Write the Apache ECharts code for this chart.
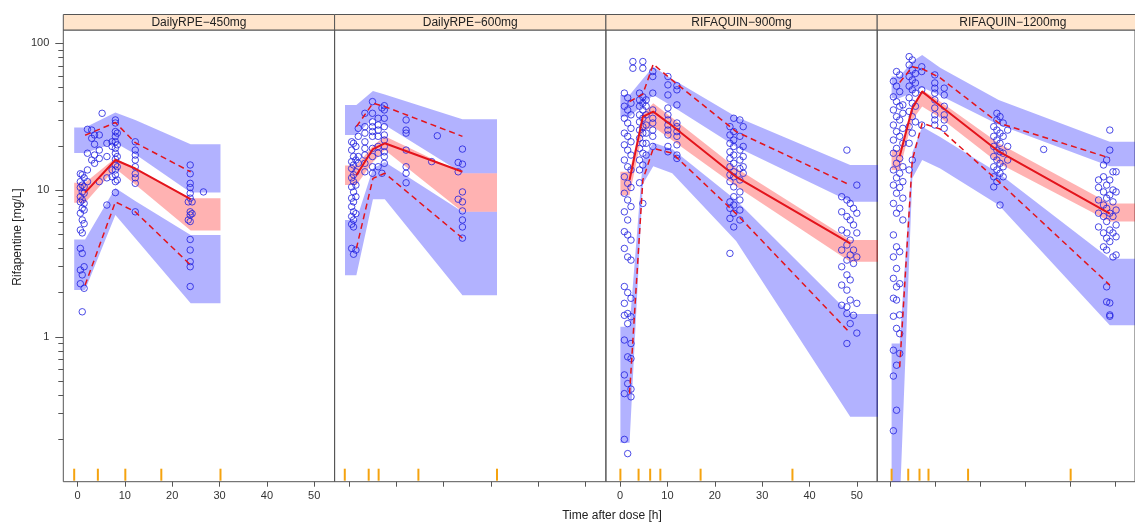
<!DOCTYPE html>
<html>
<head>
<meta charset="utf-8">
<title>Rifapentine VPC</title>
<script src="https://cdn.jsdelivr.net/npm/echarts@6/dist/echarts.min.js"></script>
<style>
  html, body { margin: 0; padding: 0; background: #fff; }
  #vpc { width: 1135px; height: 525px; }
</style>
</head>
<body>
<div id="vpc"></div>
<script>
// panels and ticks
const panels = ['DailyRPE−450mg', 'DailyRPE−600mg', 'RIFAQUIN−900mg', 'RIFAQUIN−1200mg'];
const xTicks = [0, 10, 20, 30, 40, 50];
const yMajor = [1, 10, 100];
const yMinor = [0.2, 0.3, 0.4, 0.5, 0.6, 0.7, 0.8, 0.9, 2, 3, 4, 5, 6, 7, 8, 9, 20, 30, 40, 50, 60, 70, 80, 90];

// bin edges (orange rug)
const binEdges = [
  [-0.7, 4.3, 10.1, 17.7, 30.2],
  [-0.85, 4.2, 6.3, 14.7, 31.3],
  [0.06, 3.9, 6.35, 8.5, 17.0, 36.4],
  [0.2, 3.9, 6.4, 8.4, 17.2, 40.0]
];

// simulated confidence bands: x positions, then lo/hi for 5th, 50th, 95th percentile
const bandX = [
  [-0.7, 1.6, 8.0, 12.2, 23.9, 30.2],
  [-0.8, 1.6, 5.1, 7.6, 24.0, 31.3],
  [0.06, 2.0, 4.8, 7.0, 11.0, 24.5, 48.6, 56],
  [0.2, 2.0, 4.8, 7.0, 11.0, 24.0, 48.7, 56]
];
const p5Lo = [
  [2.08, 2.08, 6.76, 4.7, 1.69, 1.69],
  [2.63, 2.63, 8.65, 8.65, 1.92, 1.92],
  [0.19, 0.19, 11, 14.5, 13, 4.5, 0.285, 0.285],
  [0.07, 0.07, 12, 16, 14, 7.9, 1.2, 1.2]
];
const p5Hi = [
  [4.6, 4.6, 10.3, 8.4, 4.94, 4.94],
  [6.25, 6.25, 14.0, 15.5, 7.1, 7.1],
  [1.17, 1.17, 16, 21, 19, 8.5, 1.43, 1.43],
  [0.9, 0.9, 18, 27, 23, 13, 3.4, 3.4]
];
const p50Lo = [
  [8.2, 8.2, 14.0, 10.9, 5.3, 5.3],
  [10.8, 10.8, 15.5, 18.7, 7.1, 7.1],
  [9.2, 9.2, 25, 27, 21.8, 10.6, 3.25, 3.25],
  [13.7, 13.7, 30, 37, 31, 15.2, 6.1, 6.1]
];
const p50Hi = [
  [11.2, 11.2, 16.5, 13.9, 8.8, 8.8],
  [14.7, 14.7, 20.0, 23.2, 13.0, 13.0],
  [13.3, 13.3, 33, 39, 31, 14.1, 4.56, 4.56],
  [18.7, 18.7, 38, 48, 40, 20.8, 8.1, 8.1]
];
const p95Lo = [
  [17.9, 17.9, 21.0, 17.5, 9.6, 9.6],
  [23.7, 23.7, 30.8, 27.7, 13.0, 13.0],
  [31.6, 31.6, 38, 44.4, 37.2, 19.7, 8.3, 8.3],
  [42.3, 42.3, 46, 50, 44, 27.8, 14.5, 14.5]
];
const p95Hi = [
  [26.6, 26.6, 33.7, 30.0, 20.5, 20.5],
  [38, 38, 47.3, 44.8, 30.3, 30.3],
  [44.4, 44.4, 57, 69, 57, 31.6, 14.8, 14.8],
  [59.2, 59.2, 75, 83, 68, 41, 21.3, 21.3]
];

// observed percentiles
const obsX = [
  [1.6, 8.0, 12.2, 23.9],
  [1.6, 5.1, 7.6, 24.0],
  [2.0, 4.8, 7.0, 11.0, 24.5, 48.6],
  [2.0, 4.8, 7.0, 11.0, 24.0, 48.7]
];
const obs5 = [
  [2.25, 8.3, 7.1, 3.08],
  [4.0, 12.0, 13.0, 4.7],
  [0.41, 11.7, 19.2, 17.8, 6.9, 1.06],
  [0.62, 16, 28.5, 26, 11.4, 2.25]
];
const obs50 = [
  [9.6, 16.0, 14.0, 8.65],
  [12.6, 19.0, 20.8, 13.3],
  [11.7, 31.6, 34.2, 27.4, 12.3, 4.33],
  [17, 36, 46.8, 37.5, 18.3, 6.9]
];
const obs95 = [
  [23.6, 28.8, 21.0, 13.3],
  [27, 39, 37, 23.2],
  [40, 45, 72, 56, 25, 10.8],
  [54, 69, 67, 58, 28.6, 16.5]
];

// observed concentrations [time, conc]
const pts1 = [
  [0.6,12.9],[0.6,11.4],[0.6,10.4],[0.6,9.0],[0.6,8.3],[0.6,6.95],[0.6,5.34],[0.6,4.0],[0.6,2.85],[0.6,2.3],
  [1.0,12.7],[1.0,10.8],[1.0,9.7],[1.0,8.55],[1.0,7.5],[1.0,6.25],[1.0,5.1],[1.0,3.7],[1.0,2.64],[1.0,1.48],
  [1.4,12.1],[1.4,10.5],[1.4,9.5],[1.4,8.1],[1.4,7.3],[1.4,5.9],[1.4,3.0],[1.4,2.14],
  [2.1,25.9],[2.1,17.8],[2.1,13.7],[2.1,11.4],
  [3.0,25.6],[3.0,22.5],[3.0,16.0],
  [3.6,23.7],[3.6,20.5],[3.6,17.3],[3.6,15.2],
  [4.6,23.7],[4.6,18.7],[4.6,16.4],[4.6,11.4],
  [5.2,33.3],
  [6.2,20.8],[6.2,16.9],[6.2,12.1],[6.2,7.9],
  [7.3,21.3],[7.3,19.8],[7.3,13.7],[7.3,12.3],
  [8.0,30.0],[8.0,28.6],[8.0,25.0],[8.0,23.2],[8.0,21.3],[8.0,19.2],[8.0,17.8],[8.0,16.2],[8.0,14.8],[8.0,13.7],[8.0,12.7],[8.0,11.4],[8.0,9.6],
  [8.4,24.4],[8.4,20.3],[8.4,16.9],[8.4,14.4],[8.4,11.7],
  [12.2,21.3],[12.2,18.7],[12.2,17.3],[12.2,16.0],[12.2,14.4],[12.2,12.9],[12.2,12.1],[12.2,11.1],[12.2,7.1],
  [23.4,8.3],[23.4,6.25],
  [23.8,14.8],[23.8,12.9],[23.8,11.1],[23.8,10.4],[23.8,9.5],[23.8,8.8],[23.8,7.1],[23.8,6.76],[23.8,6.1],[23.8,4.6],[23.8,3.9],[23.8,3.25],[23.8,3.0],[23.8,2.2],
  [24.2,8.3],[24.2,6.9],
  [26.6,9.7]
];
const pts2 = [
  [0.6,21.3],[0.6,18.7],[0.6,15.6],[0.6,14.0],[0.6,12.1],[0.6,10.5],[0.6,8.8],[0.6,7.7],[0.6,6.6],[0.6,5.85],[0.6,4.0],
  [1.0,20.8],[1.0,16.9],[1.0,14.8],[1.0,12.7],[1.0,11.4],[1.0,9.7],[1.0,8.3],[1.0,7.1],[1.0,6.25],[1.0,5.6],[1.0,3.65],
  [1.5,19.8],[1.5,16.0],[1.5,13.3],[1.5,10.8],[1.5,9.0],[1.5,6.9],[1.5,3.9],
  [2.0,26.3],[2.0,23.2],[2.0,16.9],[2.0,15.2],
  [3.4,33.3],[3.4,27.0],[3.4,24.4],[3.4,21.3],[3.4,19.2],[3.4,17.3],[3.4,15.2],[3.4,13.3],
  [5.0,40.0],[5.0,33.3],[5.0,29.1],[5.0,27.0],[5.0,25.0],[5.0,23.2],[5.0,19.2],[5.0,16.9],[5.0,14.4],[5.0,13.0],
  [6.2,30.8],[6.2,27.7],[6.2,25.6],[6.2,23.2],[6.2,19.8],[6.2,17.8],[6.2,14.4],
  [7.0,36.2],[7.0,13.0],
  [7.5,37.5],[7.5,35.1],[7.5,30.8],[7.5,27.0],[7.5,23.7],[7.5,21.9],[7.5,19.8],[7.5,18.2],[7.5,16.9],[7.5,15.2],
  [12.1,30.0],[12.1,25.6],[12.1,24.4],[12.1,18.7],[12.1,14.4],[12.1,13.0],[12.1,11.2],
  [17.5,15.6],[18.7,23.4],
  [23.1,15.4],[23.1,13.3],[23.1,8.65],
  [24.0,19.0],[24.0,15.0],[24.0,9.7],[24.0,8.3],[24.0,7.2],[24.0,6.25],[24.0,5.6],[24.0,4.7]
];
const pts3 = [
  [0.9,45.7],[0.9,37.2],[0.9,30.8],[0.9,24.4],[0.9,20.3],[0.9,16.0],[0.9,12.3],[0.9,9.5],[0.9,7.1],[0.9,5.2],[0.9,4.0],[0.9,2.2],[0.9,1.69],[0.9,1.4],[0.9,0.95],[0.9,0.55],[0.9,0.41],[0.9,0.2],
  [1.6,42.5],[1.6,35.1],[1.6,28.6],[1.6,23.2],[1.6,18.7],[1.6,14.4],[1.6,11.1],[1.6,8.55],[1.6,6.25],[1.6,4.94],[1.6,3.5],[1.6,2.0],[1.6,1.44],[1.6,1.23],[1.6,0.73],[1.6,0.48],[1.6,0.16],
  [2.3,39.0],[2.3,32.5],[2.3,26.3],[2.3,21.3],[2.3,17.3],[2.3,13.7],[2.3,10.4],[2.3,7.7],[2.3,4.56],[2.3,3.33],[2.3,1.83],[2.3,1.37],[2.3,0.9],[2.3,0.71],[2.3,0.44],[2.3,0.39],
  [2.7,75],[2.7,67.5],[4.8,75],[4.8,67.5],
  [4.1,45.7],[4.1,41.1],[4.1,37.2],[4.1,32.5],[4.1,29.1],[4.1,25.6],[4.1,22.5],[4.1,19.2],[4.1,16.0],[4.1,13.7],[4.1,11.2],
  [4.8,43.1],[4.8,39.0],[4.8,35.1],[4.8,30.8],[4.8,27.0],[4.8,24.4],[4.8,20.8],[4.8,17.8],[4.8,14.8],[4.8,8.1],
  [5.5,41.1],[5.5,37.2],[5.5,32.5],[5.5,27.7],[5.5,24.4],[5.5,20.8],[5.5,17.3],
  [6.9,64.1],[6.9,59.3],[6.9,45.7],[6.9,35.1],[6.9,30.8],[6.9,28.6],[6.9,25.6],[6.9,23.2],[6.9,19.8],
  [10.1,59.3],[10.1,52.0],[10.1,44.4],[10.1,36.2],[10.1,32.5],[10.1,30.0],[10.1,27.7],[10.1,25.6],[10.1,23.7],[10.1,19.8],[10.1,18.2],
  [12.0,51.3],[12.0,48.1],[12.0,38.0],[12.0,28.6],[12.0,27.0],[12.0,25.0],[12.0,23.2],[12.0,20.3],[12.0,17.3],[12.0,16.4],
  [23.2,27.0],[23.2,23.7],[23.2,20.8],[23.2,18.2],[23.2,16.4],[23.2,14.4],[23.2,12.7],[23.2,11.4],[23.2,8.3],[23.2,7.5],[23.2,6.4],[23.2,3.7],
  [24.0,30.8],[24.0,25.0],[24.0,21.9],[24.0,19.8],[24.0,17.3],[24.0,15.2],[24.0,13.3],[24.0,12.3],[24.0,10.5],[24.0,9.0],[24.0,7.9],[24.0,6.95],[24.0,5.6],
  [25.3,30.0],[25.3,23.2],[25.3,18.7],[25.3,16.0],[25.3,14.0],[25.3,11.7],[25.3,9.7],[25.3,8.55],[25.3,7.3],[25.3,6.25],
  [26.0,27.0],[26.0,19.8],[26.0,16.9],[26.0,14.4],[26.0,13.0],
  [46.8,9.0],[46.8,7.1],[46.8,5.34],[46.8,3.9],[46.8,3.0],[46.8,2.25],[46.8,1.64],
  [47.9,18.7],[47.9,8.55],[47.9,6.6],[47.9,5.1],[47.9,4.22],[47.9,3.33],[47.9,2.64],[47.9,2.08],[47.9,1.44],[47.9,1.6],[47.9,0.9],
  [48.6,8.1],[48.6,6.25],[48.6,4.56],[48.6,3.61],[48.6,2.44],[48.6,1.78],[48.6,1.23],
  [49.3,7.5],[49.3,5.78],[49.3,3.9],[49.3,3.16],[49.3,1.4],
  [50.0,10.8],[50.0,6.95],[50.0,5.1],[50.0,3.5],[50.0,1.69],[50.0,1.06]
];
const pts4 = [
  [0.6,55],[0.6,43.1],[0.6,35.1],[0.6,27.7],[0.6,21.9],[0.6,17.8],[0.6,13.7],[0.6,10.8],[0.6,8.1],[0.6,4.94],[0.6,3.5],[0.6,2.5],[0.6,1.83],[0.6,1.38],[0.6,0.81],[0.6,0.54],[0.6,0.229],
  [1.3,64.1],[1.3,51],[1.3,40],[1.3,31.6],[1.3,25],[1.3,19.2],[1.3,15.2],[1.3,12.1],[1.3,9.5],[1.3,6.95],[1.3,4.1],[1.3,2.92],[1.3,2.19],[1.3,1.78],[1.3,1.14],[1.3,0.64],[1.3,0.316],
  [2.0,60.8],[2.0,46.8],[2.0,37.2],[2.0,30],[2.0,23.2],[2.0,16.4],[2.0,13],[2.0,10.4],[2.0,7.5],[2.0,3.8],[2.0,2.3],[2.0,1.41],[2.0,1.05],[2.0,0.77],
  [2.7,38],[2.7,33.3],[2.7,26.3],[2.7,20.8],[2.7,14.4],[2.7,11.4],[2.7,8.8],[2.7,6.25],
  [4.1,81],[4.1,71.1],[4.1,59.3],[4.1,51],[4.1,42.5],[4.1,34.3],[4.1,27],[4.1,20.8],[4.1,13.7],
  [4.8,76.9],[4.8,65.7],[4.8,56.2],[4.8,48.1],[4.8,39],[4.8,31.6],[4.8,24.4],[4.8,16],
  [5.5,62.2],[5.5,53.6],[5.5,45.7],[5.5,37.2],[5.5,29.1],
  [6.9,69.1],[6.9,64.1],[6.9,48.1],[6.9,27.7],
  [9.8,60.8],[9.8,53.6],[9.8,49.4],[9.8,45.7],[9.8,41.1],[9.8,36.2],[9.8,32.5],[9.8,30],[9.8,27.7],
  [11.9,49.4],[11.9,44.4],[11.9,37.2],[11.9,32.5],[11.9,30],[11.9,26.3],
  [22.9,27],[22.9,23.2],[22.9,19.8],[22.9,16.9],[22.9,14.4],[22.9,12.3],[22.9,10.5],
  [23.6,33.3],[23.6,30],[23.6,25.6],[23.6,21.9],[23.6,18.7],[23.6,16],[23.6,13.7],[23.6,11.4],
  [24.3,31.6],[24.3,24.4],[24.3,20.8],[24.3,18.2],[24.3,15.2],[24.3,13],[24.3,7.9],
  [25.0,28.6],[25.0,23.2],[25.0,17.8],[25.0,14.4],[25.0,12.3],
  [26.0,25.6],[26.0,19.8],[26.0,16],
  [34.0,18.9],
  [46.2,11.7],[46.2,10.4],[46.2,8.55],[46.2,6.95],[46.2,5.6],
  [47.3,14.8],[47.3,12.3],[47.3,9.7],[47.3,7.9],[47.3,6.6],[47.3,5.1],[47.3,4.1],
  [48.0,16],[48.0,10.8],[48.0,8.8],[48.0,7.5],[48.0,6.1],[48.0,4.7],[48.0,3.9],[48.0,2.19],[48.0,1.73],
  [48.7,25.6],[48.7,18.7],[48.7,11.7],[48.7,9.25],[48.7,6.95],[48.7,5.34],[48.7,4.45],[48.7,1.41],[48.7,1.7],[48.7,1.38],
  [49.4,13.3],[49.4,10],[49.4,8.3],[49.4,6.6],[49.4,5.1],[49.4,3.5],
  [50.1,13.3],[50.1,9.7],[50.1,7.3],[50.1,5.78],[50.1,4.8],[50.1,3.61]
];
const obsPts = [pts1, pts2, pts3, pts4];

// layout
const X_MIN = -3.0, X_MAX = 54.3;
const Y_MIN = 0.103, Y_MAX = 123;
const GRID_LEFT = 63.3, GRID_W = 271.3, GRID_TOP = 30, GRID_H = 451.7;
const FONT = 'Liberation Sans, Arial, sans-serif';
const BLUE_BAND = 'rgba(0,0,255,0.3)';
const RED_BAND = 'rgba(255,0,0,0.3)';
const LINE_RED = '#e3141c';

const chart = echarts.init(document.getElementById('vpc'));

function bandSeries(k, xs, lo, hi, color) {
  return {
    type: 'custom', xAxisIndex: k, yAxisIndex: k, clip: true, silent: true, z: 1,
    data: xs.map((x, i) => [x, lo[i], hi[i]]),
    renderItem: function (params, api) {
      if (params.dataIndex !== 0) return;
      const top = xs.map((x, i) => api.coord([x, hi[i]]));
      const bottom = xs.map((x, i) => api.coord([x, lo[i]])).reverse();
      return { type: 'polygon', shape: { points: top.concat(bottom) }, style: { fill: color } };
    }
  };
}

function pctLine(k, ys, dashed) {
  return {
    type: 'line', xAxisIndex: k, yAxisIndex: k, silent: true, z: 4,
    data: obsX[k].map((x, i) => [x, ys[i]]),
    showSymbol: false,
    lineStyle: { color: LINE_RED, width: dashed ? 1.5 : 2, type: dashed ? [6, 4] : 'solid' }
  };
}

// extra log axis on panel 1 that only draws ticks
function tickAxis(values, len) {
  return {
    type: 'log', logBase: 10, gridIndex: 0, min: Y_MIN, max: Y_MAX, position: 'left',
    axisLine: { show: false },
    axisTick: { show: true, length: len, customValues: values, lineStyle: { color: '#555' } },
    axisLabel: { show: false },
    splitLine: { show: false }
  };
}

const grids = [], xAxes = [], yAxes = [], series = [], graphics = [];

panels.forEach((name, k) => {
  const left = GRID_LEFT + GRID_W * k;
  grids.push({
    left: left, top: GRID_TOP, width: GRID_W, height: GRID_H,
    show: true, borderColor: '#555', borderWidth: 1, backgroundColor: 'transparent'
  });
  xAxes.push({
    type: 'value', gridIndex: k, min: X_MIN, max: X_MAX,
    axisLine: { show: false },
    axisTick: { show: true, length: 5, customValues: xTicks, lineStyle: { color: '#555' } },
    axisLabel: { show: k % 2 === 0, customValues: xTicks, margin: 9, fontSize: 11, color: '#333', fontFamily: FONT },
    splitLine: { show: false }
  });
  yAxes.push({
    type: 'log', logBase: 10, gridIndex: k, min: Y_MIN, max: Y_MAX,
    axisLine: { show: false },
    axisTick: { show: false },
    axisLabel: { show: k === 0, customValues: yMajor, margin: 14, fontSize: 11, color: '#333', fontFamily: FONT },
    splitLine: { show: false }
  });

  series.push(bandSeries(k, bandX[k], p5Lo[k], p5Hi[k], BLUE_BAND));
  series.push(bandSeries(k, bandX[k], p50Lo[k], p50Hi[k], RED_BAND));
  series.push(bandSeries(k, bandX[k], p95Lo[k], p95Hi[k], BLUE_BAND));

  series.push({
    type: 'scatter', xAxisIndex: k, yAxisIndex: k, silent: true, z: 3,
    data: obsPts[k], symbol: 'circle', symbolSize: 6.5,
    itemStyle: { color: 'rgba(0,0,0,0)', borderColor: '#1f1fe0', borderWidth: 1 }
  });

  series.push(pctLine(k, obs50[k], false));
  series.push(pctLine(k, obs5[k], true));
  series.push(pctLine(k, obs95[k], true));

  // bin boundaries as orange rug at the bottom
  series.push({
    type: 'custom', xAxisIndex: k, yAxisIndex: k, silent: true, z: 5,
    data: binEdges[k].map(x => [x, Y_MIN]),
    renderItem: function (params, api) {
      const p = api.coord([api.value(0), Y_MIN]);
      return { type: 'line', shape: { x1: p[0], y1: p[1] - 1, x2: p[0], y2: p[1] - 13 },
        style: { stroke: '#f5a30f', lineWidth: 2 } };
    }
  });

  // strip header
  graphics.push({
    type: 'rect', shape: { x: left, y: 14.5, width: GRID_W, height: 15.5 },
    style: { fill: '#ffe5cc', stroke: '#555', lineWidth: 1 }
  });
  graphics.push({
    type: 'text', x: left + GRID_W / 2, y: 22.5,
    style: { text: name, textAlign: 'center', textVerticalAlign: 'middle', font: '12px ' + FONT, fill: '#222' }
  });
});

yAxes.push(tickAxis(yMajor, 8));
yAxes.push(tickAxis(yMinor, 5));

graphics.push({
  type: 'text', x: 612, y: 515.5,
  style: { text: 'Time after dose [h]', textAlign: 'center', textVerticalAlign: 'middle', font: '12px ' + FONT, fill: '#222' }
});
graphics.push({
  type: 'text', x: 17.5, y: 237, rotation: Math.PI / 2,
  style: { text: 'Rifapentine [mg/L]', textAlign: 'center', textVerticalAlign: 'middle', font: '12px ' + FONT, fill: '#222' }
});

chart.setOption({
  animation: false,
  grid: grids,
  xAxis: xAxes,
  yAxis: yAxes,
  series: series,
  graphic: graphics
});
</script>
</body>
</html>
